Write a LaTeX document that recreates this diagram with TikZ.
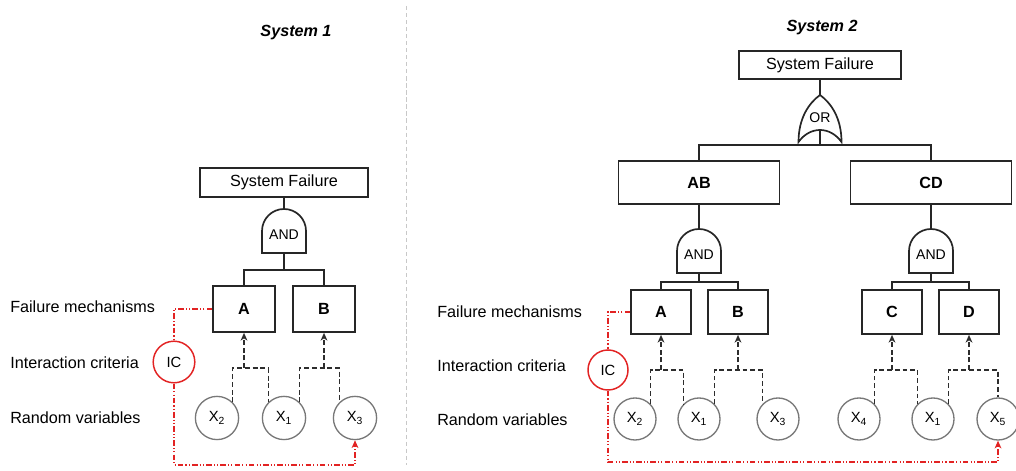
\documentclass[tikz,border=0pt]{standalone}
\usepackage{fontspec}
\setmainfont{Liberation Sans}
\usepackage{xcolor}
\usetikzlibrary{arrows.meta}
\definecolor{icred}  {RGB}{226,35,35}
\definecolor{rvgray} {RGB}{120,120,120}
\definecolor{depgray}{RGB}{45,45,45}
\definecolor{divgray}{RGB}{200,200,200}

\begin{document}
\begin{tikzpicture}[
  x=0.025cm,y=0.025cm,
  >={Stealth[length=5.5pt,width=4.8pt,inset=1.6pt]},
  box/.style={draw=black!85,line width=1.2pt,fill=white,inner sep=0pt,
              font=\fontsize{11.5}{13}\selectfont},
  sub/.style={box,font=\fontsize{11.5}{13}\selectfont\bfseries,
              minimum width=4.025cm,minimum height=1.075cm},
  evt/.style={box,font=\fontsize{11.5}{13}\selectfont\bfseries,
              minimum width=1.55cm,minimum height=1.15cm},
  rv/.style={circle,draw=rvgray,line width=0.95pt,inner sep=0pt,
             minimum size=1.08cm,font=\fontsize{10.5}{12}\selectfont},
  icn/.style={circle,draw=icred,line width=1.05pt,inner sep=0pt,
              minimum size=1.04cm,font=\fontsize{10.5}{12}\selectfont},
  tree/.style={draw=black!85,line width=1.2pt},
  dep/.style={draw=depgray,line width=1pt,dash pattern=on 3.5pt off 2pt},
  link/.style={draw=icred,line width=0.9pt,
               dash pattern=on 4pt off 1.5pt on 0.8pt off 1.5pt on 0.8pt off 1.5pt},
  rowlbl/.style={anchor=west,inner sep=0pt,font=\fontsize{11.5}{13}\selectfont},
  title/.style={font=\fontsize{11.5}{13}\selectfont\bfseries\itshape},
  gatetxt/.style={inner sep=0pt,font=\fontsize{10}{12}\selectfont},
  andgate/.pic={
    \draw[tree,fill=white] (-22,0) -- (-22,22)
      arc[start angle=180,end angle=0,radius=0.55cm] -- (22,0) -- cycle;
    \node[gatetxt] at (0,18) {AND};
    \coordinate (-top) at (0,44);
    \coordinate (-bot) at (0,0);
  },
  orgate/.pic={
    \draw[tree,fill=white] (-21.5,0) .. controls (-21.5,24) and (-11,39) .. (0,47)
      .. controls (11,39) and (21.5,24) .. (21.5,0)
      .. controls (10,16) and (-10,16) .. (-21.5,0) -- cycle;
    \node[gatetxt] at (0,24) {OR};
    \coordinate (-top) at (0,47);
    \coordinate (-bot) at (0,12);
  },
]
\useasboundingbox (0,0) rectangle (1016,471);

%% titles and divider
\node[title] (t1) at (296,438) {System 1};
\node[title] (t2) at (822,443) {System 2};
\coordinate (dtop) at (406,465);
\coordinate (dbot) at (406,6);
\draw[divgray,line width=0.6pt,dash pattern=on 3pt off 2pt] (dtop) -- (dbot);

%% ---------------- System 1 ----------------
\node[rowlbl] (fm1) at (10,164) {Failure mechanisms};
\node[rowlbl] (ci1) at (10,108) {Interaction criteria};
\node[rowlbl] (rl1) at (10,53) {Random variables};

\node[box,minimum width=4.2cm,minimum height=0.725cm] (sf1) at (284,288.5)
  {System Failure};
\pic (g1) at (284,218) {andgate};
\node[evt] (A1) at (244,162) {A};
\node[evt] (B1) at (324,162) {B};
\coordinate (j1) at (284,201);
\draw[tree] (sf1.south) -- (g1-top);
\draw[tree] (g1-bot) -- (j1);
\draw[tree] (A1.north) |- (j1) -| (B1.north);

\node[rv] (x21) at (217,53) {X\textsubscript{2}};
\node[rv] (x11) at (284,53) {X\textsubscript{1}};
\node[rv] (x31) at (355,53) {X\textsubscript{3}};
\node[icn] (ic1) at (174,109) {IC};

\coordinate (dA1) at (244,103);
\coordinate (dB1) at (324,103);
\draw[dep] (x21.north east) |- (dA1) -| (x11.north west);
\draw[dep,->] (dA1) -- (A1.south);
\draw[dep] (x11.north east) |- (dB1) -| (x31.north west);
\draw[dep,->] (dB1) -- (B1.south);

\coordinate (low1) at (174,6);
\draw[link] (A1.west) -| (ic1.north);
\draw[link,->,icred] (ic1.south) -- (low1) -| (x31.south);

%% ---------------- System 2 ----------------
\node[rowlbl] (fm2) at (437,159) {Failure mechanisms};
\node[rowlbl] (ci2) at (437,105) {Interaction criteria};
\node[rowlbl] (rl2) at (437,51) {Random variables};

\node[box,minimum width=4.05cm,minimum height=0.7cm] (sf2) at (820,406)
  {System Failure};
\pic (g0) at (820,329) {orgate};
\node[sub] (AB) at (699,288.5) {AB};
\node[sub] (CD) at (931,288.5) {CD};
\coordinate (j2) at (820,326);
\draw[tree] (sf2.south) -- (g0-top);
\draw[tree] (g0-bot) -- (j2);
\draw[tree] (AB.north) |- (j2) -| (CD.north);

\pic (g2) at (699,198) {andgate};
\pic (g3) at (931,198) {andgate};
\draw[tree] (AB.south) -- (g2-top);
\draw[tree] (CD.south) -- (g3-top);

\node[evt,minimum width=1.5cm,minimum height=1.1cm] (A2) at (661,159) {A};
\node[evt,minimum width=1.5cm,minimum height=1.1cm] (B2) at (738,159) {B};
\node[evt,minimum width=1.5cm,minimum height=1.1cm] (C2) at (892,159) {C};
\node[evt,minimum width=1.5cm,minimum height=1.1cm] (D2) at (969,159) {D};
\coordinate (j3) at (699,189);
\coordinate (j4) at (931,189);
\draw[tree] (g2-bot) -- (j3);
\draw[tree] (A2.north) |- (j3) -| (B2.north);
\draw[tree] (g3-bot) -- (j4);
\draw[tree] (C2.north) |- (j4) -| (D2.north);

\node[rv,minimum size=1.05cm] (x22)  at (635,52) {X\textsubscript{2}};
\node[rv,minimum size=1.05cm] (x12)  at (699,52) {X\textsubscript{1}};
\node[rv,minimum size=1.05cm] (x32)  at (778,52) {X\textsubscript{3}};
\node[rv,minimum size=1.05cm] (x42)  at (859,52) {X\textsubscript{4}};
\node[rv,minimum size=1.05cm] (x12b) at (933,52) {X\textsubscript{1}};
\node[rv,minimum size=1.05cm] (x52)  at (998,52) {X\textsubscript{5}};
\node[icn,minimum size=1.0cm] (ic2) at (608,101) {IC};

\coordinate (dA2) at (661,101);
\coordinate (dB2) at (738,101);
\coordinate (dC2) at (892,101);
\coordinate (dD2) at (969,101);
\draw[dep] (x22.north east) |- (dA2) -| (x12.north west);
\draw[dep,->] (dA2) -- (A2.south);
\draw[dep] (x12.north east) |- (dB2) -| (x32.north west);
\draw[dep,->] (dB2) -- (B2.south);
\draw[dep] (x42.north east) |- (dC2) -| (x12b.north west);
\draw[dep,->] (dC2) -- (C2.south);
\draw[dep] (x12b.north east) |- (dD2) -| (x52.north);
\draw[dep,->] (dD2) -- (D2.south);

\coordinate (low2) at (608,9);
\draw[link] (A2.west) -| (ic2.north);
\draw[link,->,icred] (ic2.south) -- (low2) -| (x52.south);

\end{tikzpicture}
\end{document}
